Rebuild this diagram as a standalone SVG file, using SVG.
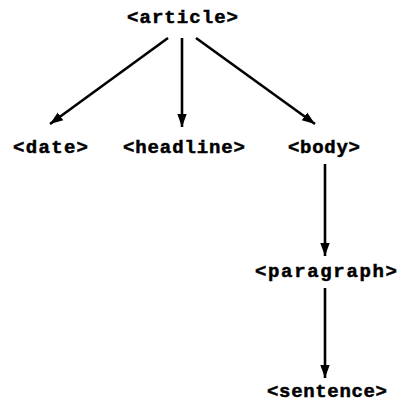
<svg xmlns="http://www.w3.org/2000/svg" width="403" height="403" viewBox="0 0 403 403">
<defs>
<marker id="ah" viewBox="0 0 10 10" refX="10" refY="5" markerWidth="5" markerHeight="5" orient="auto" markerUnits="strokeWidth">
<path d="M0,1.4 L10,5 L0,8.6 z" fill="#000"/>
</marker>
<style>
.t{font-family:"Liberation Mono","Courier New",monospace;font-weight:bold;font-size:19px;fill:#000;stroke:#000;stroke-width:0.5;text-anchor:middle}
.c{stroke:#000;stroke-width:2.6;fill:none;marker-end:url(#ah)}
</style>
</defs>
<rect width="403" height="403" fill="#fff"/>
<g id="connectors">
<line class="c" x1="168" y1="38" x2="50" y2="124"/>
<line class="c" x1="182" y1="38" x2="182" y2="127"/>
<line class="c" x1="196" y1="38" x2="315" y2="124"/>
<line class="c" x1="325" y1="164" x2="325" y2="256"/>
<line class="c" x1="325" y1="288" x2="325" y2="378"/>
</g>
<g id="article"><text class="t" x="182.5" y="23" textLength="111" lengthAdjust="spacing">&lt;article&gt;</text></g>
<g id="date"><text class="t" x="50.5" y="153" textLength="75" lengthAdjust="spacing">&lt;date&gt;</text></g>
<g id="headline"><text class="t" x="184" y="153" textLength="122" lengthAdjust="spacing">&lt;headline&gt;</text></g>
<g id="body"><text class="t" x="324" y="153" textLength="72" lengthAdjust="spacing">&lt;body&gt;</text></g>
<g id="paragraph"><text class="t" x="326" y="277" textLength="142" lengthAdjust="spacing">&lt;paragraph&gt;</text></g>
<g id="sentence"><text class="t" x="327" y="397" textLength="120" lengthAdjust="spacing">&lt;sentence&gt;</text></g>
</svg>
